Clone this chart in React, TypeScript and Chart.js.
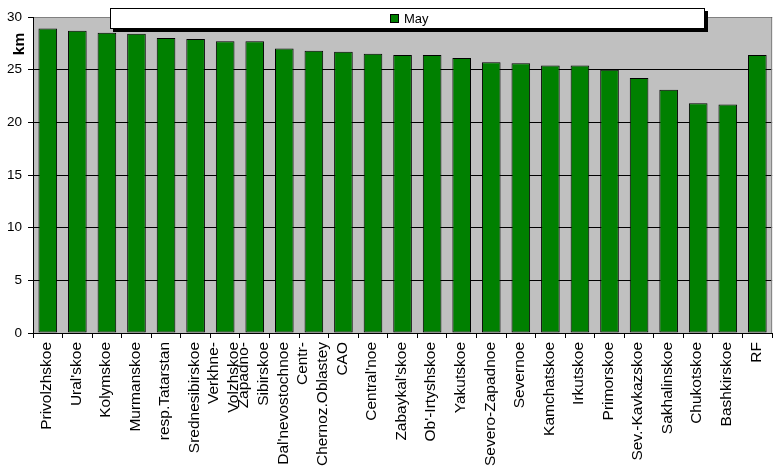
import React, { useEffect, useRef } from "react";
import { Chart, registerables } from "chart.js";

Chart.register(...registerables);

// ---- data ----
const categories: string[] = [
  "Privolzhskoe",
  "Ural'skoe",
  "Kolymskoe",
  "Murmanskoe",
  "resp.Tatarstan",
  "Srednesibirskoe",
  "Verkhne-\nVolzhskoe",
  "Zapadno-\nSibirskoe",
  "Dal'nevostochnoe",
  "Centr-\nChernoz.Oblastey",
  "CAO",
  "Central'noe",
  "Zabaykal'skoe",
  "Ob'-Irtyshskoe",
  "Yakutskoe",
  "Severo-Zapadnoe",
  "Severnoe",
  "Kamchatskoe",
  "Irkutskoe",
  "Primorskoe",
  "Sev.-Kavkazskoe",
  "Sakhalinskoe",
  "Chukotskoe",
  "Bashkirskoe",
  "RF",
];
const mayValues: number[] = [
  28.9, 28.7, 28.5, 28.4, 28.0, 27.9, 27.7, 27.7, 27.0, 26.8, 26.7, 26.5, 26.4,
  26.4, 26.1, 25.7, 25.6, 25.4, 25.4, 25.0, 24.2, 23.1, 21.8, 21.7, 26.4,
];
const yTicks: number[] = [0, 5, 10, 15, 20, 25, 30];
const seriesName = "May";
const yAxisTitle = "km";

const FONT = "Arial, 'Liberation Sans', sans-serif";
const BAR_GREEN = "#008000";

const decorPlugin = {
  id: "decor",
  beforeDraw(chart: any) {
    const { ctx, chartArea: a } = chart;
    ctx.save();
    ctx.fillStyle = "#ffffff";
    ctx.fillRect(0, 0, chart.width, chart.height);
    ctx.fillStyle = "#C0C0C0";
    ctx.fillRect(a.left, a.top, a.right - a.left, a.bottom - a.top);
    ctx.restore();
  },
  afterDraw(chart: any) {
    const { ctx, chartArea: a } = chart;
    ctx.save();
    // grey top & right border of plot area
    ctx.strokeStyle = "#808080";
    ctx.lineWidth = 1;
    ctx.beginPath();
    ctx.moveTo(a.left + 1, a.top + 0.5);
    ctx.lineTo(a.right - 0.5, a.top + 0.5);
    ctx.lineTo(a.right - 0.5, a.bottom);
    ctx.stroke();

    // x category labels (rotated, multi-line centered on the category)
    const xs = chart.scales.x;
    ctx.fillStyle = "#000";
    ctx.font = `15.5px ${FONT}`;
    categories.forEach((c, i) => {
      const lines = c.split("\n");
      const px = xs.getPixelForValue(i);
      lines.forEach((ln, j) => {
        const off = (j - (lines.length - 1) / 2) * 20 - 1;
        ctx.save();
        ctx.translate(px + off, xs.top + 9);
        ctx.rotate(-Math.PI / 2);
        ctx.textAlign = "right";
        ctx.textBaseline = "middle";
        ctx.fillText(ln, 0, 0);
        ctx.restore();
      });
    });

    // y axis title
    ctx.save();
    ctx.font = `bold 15.5px ${FONT}`;
    ctx.fillStyle = "#000";
    ctx.translate(24, 44);
    ctx.rotate(-Math.PI / 2);
    ctx.textAlign = "center";
    ctx.textBaseline = "alphabetic";
    ctx.fillText(yAxisTitle, 0, 0);
    ctx.restore();

    // legend box with shadow
    const lx = 110, ly = 8, lw = 595, lh = 21;
    ctx.fillStyle = "#000";
    ctx.fillRect(lx + 3, ly + 3, lw, lh);
    ctx.fillStyle = "#fff";
    ctx.fillRect(lx, ly, lw, lh);
    ctx.strokeStyle = "#000";
    ctx.strokeRect(lx + 0.5, ly + 0.5, lw - 1, lh - 1);
    // legend swatch
    ctx.fillStyle = BAR_GREEN;
    ctx.fillRect(390, 14, 9, 9);
    ctx.strokeRect(390.5, 14.5, 8, 8);
    ctx.fillStyle = "#000";
    ctx.font = `13px ${FONT}`;
    ctx.textAlign = "left";
    ctx.textBaseline = "alphabetic";
    ctx.fillText(seriesName, 404, 23);
    ctx.restore();
  },
};

export default function App() {
  const canvasRef = useRef<HTMLCanvasElement | null>(null);

  useEffect(() => {
    const canvas = canvasRef.current;
    if (!canvas) return;
    const chart = new Chart(canvas, {
      type: "bar",
      data: {
        labels: categories.map((c) => c.split("\n")),
        datasets: [
          {
            label: seriesName,
            data: mayValues,
            backgroundColor: BAR_GREEN,
            borderColor: "#000",
            borderWidth: 1,
            borderSkipped: false,
            barPercentage: 0.63,
            categoryPercentage: 1,
          },
        ],
      },
      options: {
        animation: false,
        responsive: false,
        maintainAspectRatio: false,
        devicePixelRatio: 1,
        layout: { padding: { left: 0, right: 3, top: 17, bottom: 0 } },
        plugins: {
          legend: { display: false },
          tooltip: { enabled: false },
          title: { display: false },
        },
        scales: {
          x: {
            offset: true,
            grid: {
              display: true,
              drawOnChartArea: false,
              drawTicks: true,
              tickLength: 5,
              color: "#000",
              offset: true,
            },
            border: { display: true, color: "#000", width: 1 },
            ticks: {
              color: "rgba(0,0,0,0)",
              autoSkip: false,
              maxRotation: 90,
              minRotation: 90,
              font: { family: FONT, size: 15.5 },
            },
            afterFit: (s: any) => {
              s.height = 142;
            },
          },
          y: {
            min: 0,
            max: 30,
            afterBuildTicks: (s: any) => {
              s.ticks = yTicks.map((v) => ({ value: v }));
            },
            grid: { color: "#000", tickLength: 5, drawTicks: true },
            border: { display: true, color: "#000", width: 1 },
            ticks: {
              color: "#000",
              padding: 6,
              font: { family: FONT, size: 13.5 },
            },
            afterFit: (s: any) => {
              s.width = 33;
            },
          },
        },
      },
      plugins: [decorPlugin],
    });
    return () => chart.destroy();
  }, []);

  return (
    <div style={{ position: "fixed", left: 0, top: 0, width: 779, height: 475, background: "#fff" }}>
      <canvas ref={canvasRef} width={779} height={475} style={{ display: "block", width: 779, height: 475 }} />
    </div>
  );
}
